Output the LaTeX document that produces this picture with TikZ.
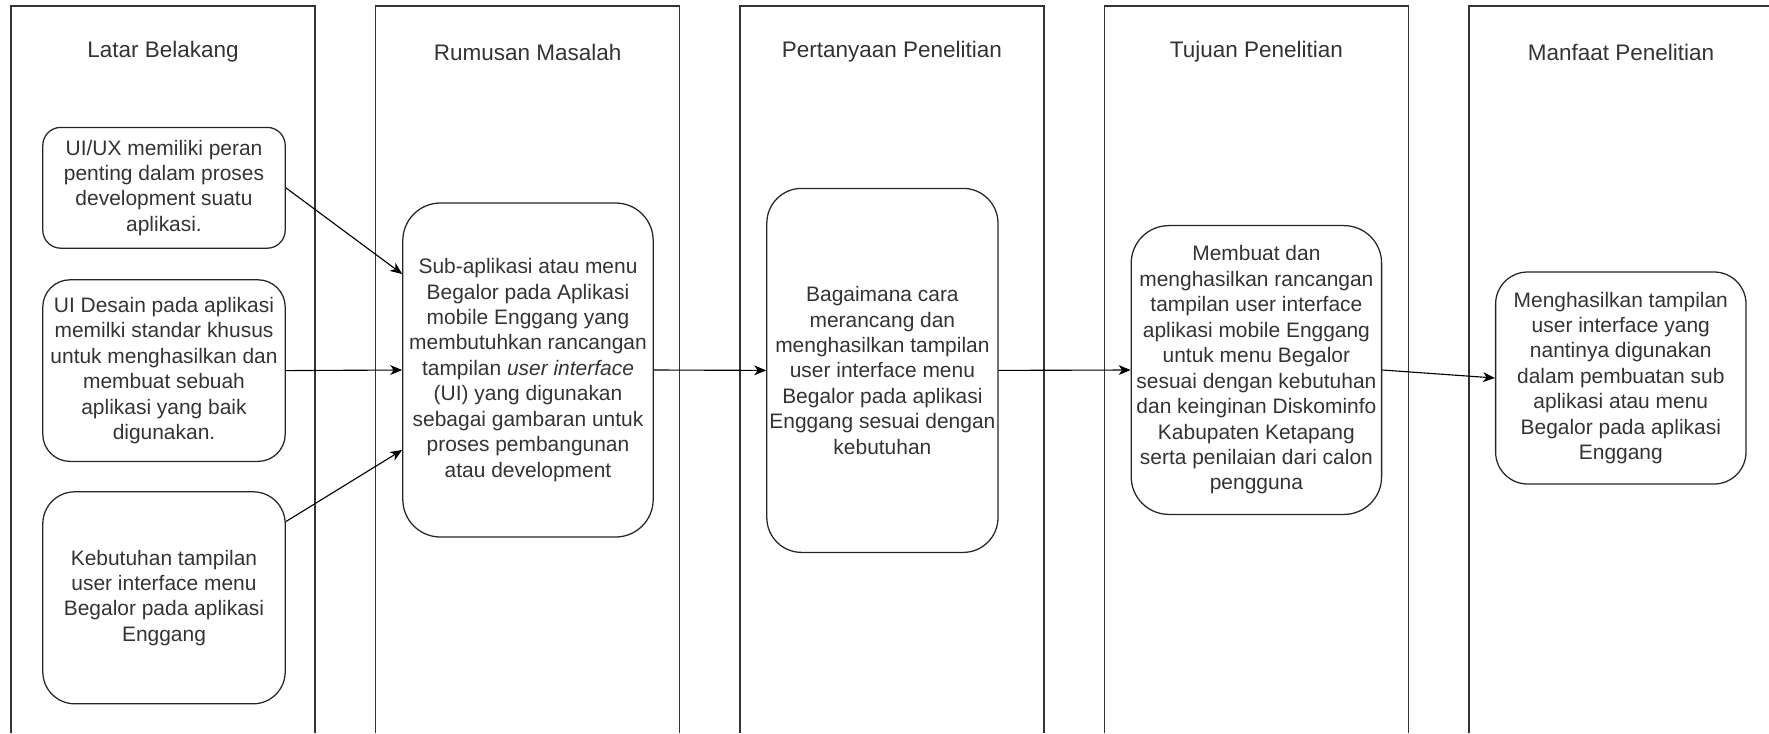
\documentclass[tikz,border=0pt]{standalone}
\usepackage{fontspec}
\setmainfont{Liberation Sans}
\usetikzlibrary{arrows.meta}
\newcommand{\txt}{\fontsize{14.9}{18.1}\selectfont}
\newcommand{\ttl}{\fontsize{16}{19}\selectfont}
\definecolor{ink}{HTML}{333333}

\tikzset{
  lane/.style={draw=black!80, line width=1pt},
  head/.style={text=ink, font=\ttl},
  box/.style={draw=black!85, line width=0.9pt, align=center, inner sep=0pt, text=ink, font=\txt},
  flow/.style={draw=black, line width=0.8pt, -{Stealth[length=8.5pt,width=7pt,inset=2.5pt]}}
}

\begin{document}
\begin{tikzpicture}
%  \draw[gray] (0,0) rectangle (44.225,-18.325);
  \path[use as bounding box] (0,0) rectangle (44.225,-18.325);
  % lanes, open at the bottom
  \draw[lane] ( 0.275,-18.325) |- ( 7.875,-0.15) -- ( 7.875,-18.325);
  \draw[lane] ( 9.390,-18.325) |- (16.990,-0.15) -- (16.990,-18.325);
  \draw[lane] (18.500,-18.325) |- (26.100,-0.15) -- (26.100,-18.325);
  \draw[lane] (27.610,-18.325) |- (35.210,-0.15) -- (35.210,-18.325);
  \draw[lane] (36.725,-18.325) |- (44.225,-0.15);
  % lane titles
  \node[head] (h1) at ( 4.075,-1.30) {Latar Belakang};
  \node[head] (h2) at (13.190,-1.30) {Rumusan Masalah};
  \node[head] (h3) at (22.300,-1.30) {Pertanyaan Penelitian};
  \node[head] (h4) at (31.410,-1.30) {Tujuan Penelitian};
  \node[head] (h5) at (40.525,-1.30) {Manfaat Penelitian};
  % boxes
  \node[box,minimum width=6.06cm,minimum height=3.02cm,rounded corners=0.45cm] (b1) at ( 4.100,-4.695)
    {UI/UX memiliki peran\\penting dalam proses\\development suatu\\aplikasi.};
  \node[box,minimum width=6.06cm,minimum height=4.54cm,rounded corners=0.68cm] (b2) at ( 4.100,-9.265)
    {UI Desain pada aplikasi\\memilki standar khusus\\untuk menghasilkan dan\\membuat sebuah\\aplikasi yang baik\\digunakan.};
  \node[box,minimum width=6.06cm,minimum height=5.30cm,rounded corners=0.80cm] (b3) at ( 4.100,-14.945)
    {Kebutuhan tampilan\\user interface menu\\Begalor pada aplikasi\\Enggang};
  \node[box,minimum width=6.26cm,minimum height=8.35cm,rounded corners=0.94cm] (b4) at (13.200,-9.250)
    {Sub-aplikasi atau menu\\Begalor pada Aplikasi\\mobile Enggang yang\\membutuhkan rancangan\\tampilan \textit{user interface}\\(UI) yang digunakan\\sebagai gambaran untuk\\proses pembangunan\\atau development};
  \node[box,minimum width=5.78cm,minimum height=9.10cm,rounded corners=0.87cm] (b5) at (22.060,-9.260)
    {Bagaimana cara\\merancang dan\\menghasilkan tampilan\\user interface menu\\Begalor pada aplikasi\\Enggang sesuai dengan\\kebutuhan};
  \node[box,minimum width=6.26cm,minimum height=7.22cm,rounded corners=0.94cm] (b6) at (31.410,-9.250)
    {Membuat dan\\menghasilkan rancangan\\tampilan user interface\\aplikasi mobile Enggang\\untuk menu Begalor\\sesuai dengan kebutuhan\\dan keinginan Diskominfo\\Kabupaten Ketapang\\serta penilaian dari calon\\pengguna};
  \node[box,minimum width=6.26cm,minimum height=5.30cm,rounded corners=0.80cm] (b7) at (40.520,-9.450)
    {Menghasilkan tampilan\\user interface yang\\nantinya digunakan\\dalam pembuatan sub\\aplikasi atau menu\\Begalor pada aplikasi\\Enggang};
  % arrows
  \draw[flow] (b1.east) -- ([yshift=2.4cm]b4.west);
  \draw[flow] (b2.east) -- (b4.west);
  \draw[flow] ([yshift=1.905cm]b3.east) -- ([yshift=-2.0cm]b4.west);
  \draw[flow] (b4.east) -- (b5.west);
  \draw[flow] (b5.east) -- (b6.west);
  \draw[flow] (b6.east) -- (b7.west);
\end{tikzpicture}
\end{document}
